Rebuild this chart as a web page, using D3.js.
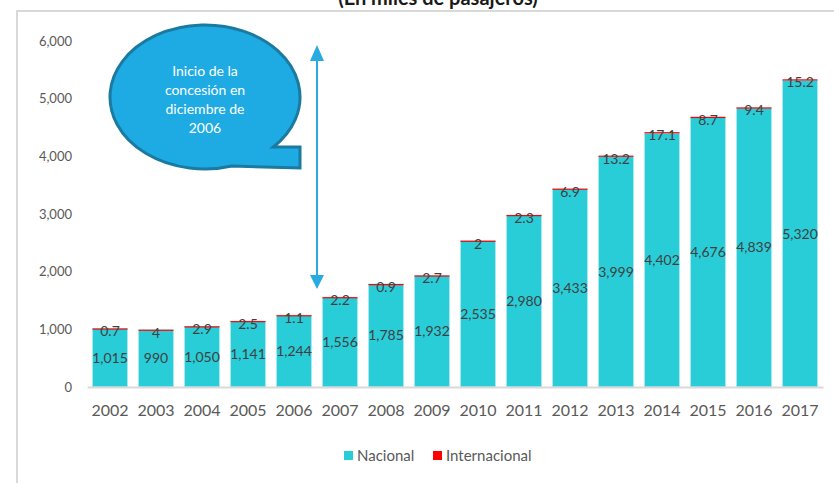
<!DOCTYPE html>
<html>
<head>
<meta charset="utf-8">
<script src="https://cdn.jsdelivr.net/npm/d3@7"></script>
<style>
  body { margin: 0; background: #fff; }
  text { font-family: Lato, "Open Sans", sans-serif; }
</style>
</head>
<body>
<div id="chart"></div>
<script>
const years = ["2002","2003","2004","2005","2006","2007","2008","2009","2010","2011","2012","2013","2014","2015","2016","2017"];
const nacional = [1015, 990, 1050, 1141, 1244, 1556, 1785, 1932, 2535, 2980, 3433, 3999, 4402, 4676, 4839, 5320];
const internacional = [0.7, 4, 2.9, 2.5, 1.1, 2.2, 0.9, 2.7, 2, 2.3, 6.9, 13.2, 17.1, 8.7, 9.4, 15.2];
const yTicks = [0, 1000, 2000, 3000, 4000, 5000, 6000];
const seriesNames = ["Nacional", "Internacional"];
const colors = ["#29CDD7", "#FF0000"];
const calloutLines = ["Inicio de la", "concesión en", "diciembre de", "2006"];

const W = 834, H = 483;
const svg = d3.select("#chart").append("svg").attr("width", W).attr("height", H);

// title, partly above the top edge like the source image
svg.append("text")
    .attr("x", 438).attr("y", 5)
    .attr("text-anchor", "middle")
    .attr("font-size", 20).attr("font-weight", "bold")
    .attr("font-family", "'Open Sans', sans-serif")
    .attr("fill", "#1a1a1a")
    .text("(En miles de pasajeros)");

// frame
svg.append("path")
    .attr("d", `M17,${H} L17,11 L${W},11`)
    .attr("fill", "none").attr("stroke", "#d9d9d9").attr("stroke-width", 2);

const x = d3.scaleBand().domain(years).range([87, 823]).paddingInner(0.24).paddingOuter(0.12);
const y = d3.scaleLinear().domain([0, 6000]).range([387, 41]);

// y axis labels
const yAxis = d3.axisLeft(y).tickValues(yTicks).tickFormat(d3.format(",")).tickSize(0).tickPadding(0);
const gy = svg.append("g").attr("transform", "translate(72,0)").call(yAxis);
gy.select(".domain").remove();
gy.selectAll("text").attr("font-size", 13).attr("fill", "#595959").attr("font-family", "Lato, sans-serif");

const stackData = years.map((yr, i) => ({ year: yr, Nacional: nacional[i], Internacional: internacional[i] }));
const stack = d3.stack().keys(seriesNames)(stackData);

svg.selectAll(".serie").data(stack).enter().append("g")
    .attr("class", "serie")
    .attr("fill", (d, i) => colors[i])
    .selectAll("rect").data(d => d).enter().append("rect")
    .attr("x", d => x(d.data.year))
    .attr("width", x.bandwidth())
    .attr("y", d => y(d[1]))
    .attr("height", d => Math.max(y(d[0]) - y(d[1]), 1.2))
    .attr("stroke", (d, i, n) => n[i].parentNode.__data__.key === "Nacional" ? "#a6e9ee" : "none")
    .attr("stroke-width", 1);

// x axis
const xAxis = d3.axisBottom(x).tickSize(0).tickPadding(18);
const gx = svg.append("g").attr("transform", "translate(0,387)").call(xAxis);
gx.select(".domain").attr("stroke", "#d9d9d9").attr("stroke-width", 2);
gx.selectAll("text").attr("font-size", 16).attr("fill", "#595959").attr("font-family", "Lato, sans-serif");

// data labels
svg.selectAll(".lab-nac").data(stack[0]).enter().append("text")
    .attr("x", d => x(d.data.year) + x.bandwidth() / 2)
    .attr("y", d => (y(d[0]) + y(d[1])) / 2)
    .attr("dy", "0.35em")
    .attr("text-anchor", "middle")
    .attr("font-size", 14).attr("fill", "#404040")
    .text(d => d3.format(",")(d.data.Nacional));

svg.selectAll(".lab-int").data(stack[1]).enter().append("text")
    .attr("x", d => x(d.data.year) + x.bandwidth() / 2)
    .attr("y", d => y(d[1]) + 3)
    .attr("dy", "0.35em")
    .attr("text-anchor", "middle")
    .attr("font-size", 14).attr("fill", "#404040")
    .text(d => d.data.Internacional);

// arrow between 2006 and 2007
const ax = (x("2006") + x.bandwidth() + x("2007")) / 2;
const yTop = y(5930), yBot = y(1700);
svg.append("line")
    .attr("x1", ax).attr("x2", ax).attr("y1", yTop + 10).attr("y2", yBot - 10)
    .attr("stroke", "#29ABE2").attr("stroke-width", 2);
svg.append("path")
    .attr("d", `M${ax},${yTop} L${ax - 7},${yTop + 16} L${ax + 7},${yTop + 16} Z`)
    .attr("fill", "#29ABE2");
svg.append("path")
    .attr("d", `M${ax},${yBot} L${ax - 7},${yBot - 14} L${ax + 7},${yBot - 14} Z`)
    .attr("fill", "#29ABE2");

// callout bubble
const cx = 205, cy = 97, rx = 95, ry = 72;
const a1 = Math.asin((147 - cy) / ry);
const p1 = [cx + rx * Math.cos(a1), 147];
const angEnd = Math.acos((232 - cx) / rx);
const p2 = [232, cy + ry * Math.sin(angEnd)];
svg.append("path")
    .attr("d", `M${p1[0]},${p1[1]} L300,147 L300,168 L${p2[0]},${p2[1]} A${rx},${ry} 0 1 1 ${p1[0]},${p1[1]} Z`)
    .attr("fill", "#1EABE3").attr("stroke", "#1A7AA0").attr("stroke-width", 3).attr("stroke-linejoin", "miter");

svg.selectAll(".callout").data(calloutLines).enter().append("text")
    .attr("x", cx).attr("y", (d, i) => 71 + i * 19)
    .attr("dy", "0.35em")
    .attr("text-anchor", "middle")
    .attr("font-size", 14).attr("fill", "#fff")
    .attr("font-family", "'Open Sans', sans-serif")
    .text(d => d);

// legend
const legend = svg.append("g").attr("transform", "translate(344,456)");
const legX = [0, 89];
seriesNames.forEach((s, i) => {
    legend.append("rect").attr("x", legX[i]).attr("y", -5).attr("width", 9).attr("height", 9).attr("fill", colors[i]);
    legend.append("text").attr("x", legX[i] + 13).attr("y", 0).attr("dy", "0.35em")
        .attr("font-size", 15).attr("fill", "#595959").text(s);
});
</script>
</body>
</html>
